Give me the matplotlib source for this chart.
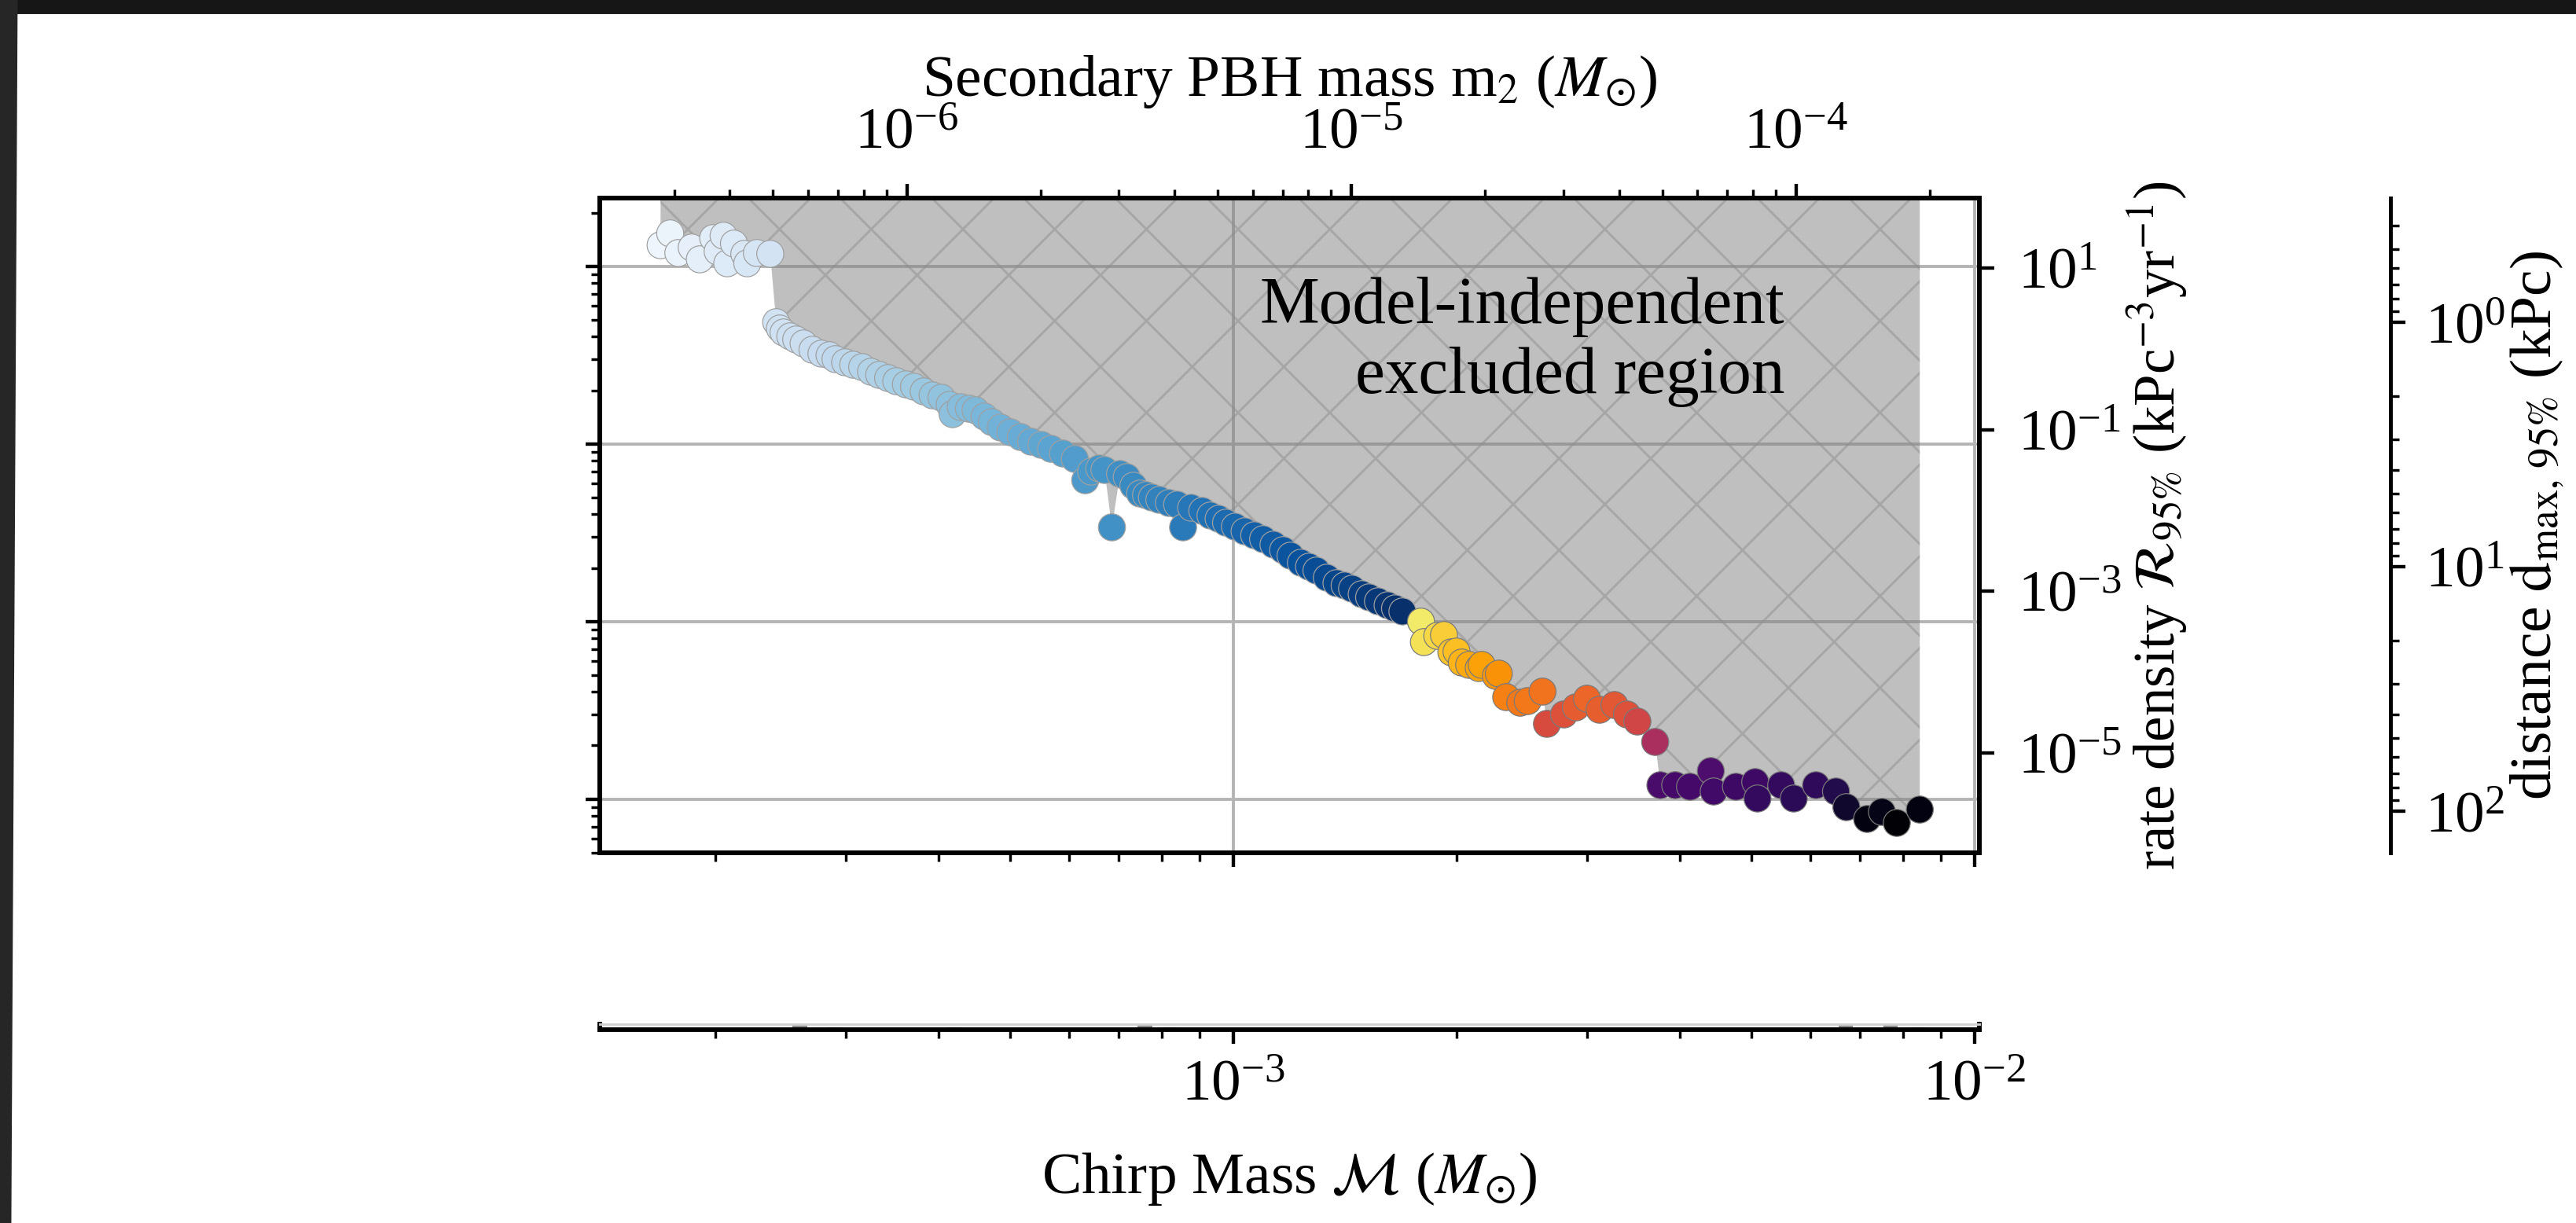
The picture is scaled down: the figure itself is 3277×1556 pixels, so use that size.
import numpy as np
import matplotlib
matplotlib.use("Agg")
import matplotlib.pyplot as plt
from matplotlib import ticker
from matplotlib.patches import Rectangle, Polygon

plt.rcParams.update({
    "font.family": "Liberation Serif",
    "mathtext.fontset": "stix",
    "font.size": 15.5,
    "axes.linewidth": 1.2,
    "hatch.linewidth": 0.6,
})

M1 = 2.5  # primary PBH mass (Msun)

# ---- data: log10 chirp mass and log10 95% rate density ----
white_logmc = [-3.773, -3.760, -3.749, -3.731, -3.720, -3.702, -3.696, -3.688,
               -3.683, -3.674, -3.660, -3.656, -3.643, -3.625]
white_logr = [1.283, 1.429, 1.186, 1.254, 1.108, 1.371, 1.205, 1.400,
              1.059, 1.303, 1.176, 1.059, 1.186, 1.176]

blue_logmc = [-3.617, -3.612, -3.607, -3.598, -3.590, -3.580, -3.568, -3.556,
              -3.545, -3.537, -3.524, -3.513, -3.501, -3.489, -3.478, -3.466,
              -3.455, -3.442, -3.431, -3.418, -3.406, -3.394, -3.383, -3.379,
              -3.368, -3.357, -3.348, -3.336, -3.326, -3.314, -3.301, -3.287,
              -3.273, -3.259, -3.246, -3.230, -3.214, -3.200, -3.192, -3.181,
              -3.174, -3.164, -3.153, -3.144, -3.135, -3.126, -3.118, -3.110,
              -3.100, -3.087, -3.076, -3.068, -3.057, -3.042, -3.031, -3.020,
              -3.010, -2.998, -2.985, -2.972, -2.960, -2.946, -2.933, -2.923,
              -2.909, -2.898, -2.888, -2.874, -2.861, -2.850, -2.840, -2.827,
              -2.817, -2.805, -2.792, -2.782, -2.772]
blue_logr = [0.330, 0.252, 0.203, 0.155, 0.116, 0.067, -0.011, -0.059,
             -0.079, -0.127, -0.166, -0.196, -0.225, -0.283, -0.322, -0.361,
             -0.400, -0.439, -0.468, -0.526, -0.575, -0.604, -0.692, -0.808,
             -0.721, -0.740, -0.760, -0.838, -0.906, -0.974, -1.032, -1.091,
             -1.149, -1.188, -1.237, -1.295, -1.363, -1.626, -1.519, -1.480,
             -1.499, -2.209, -1.548, -1.587, -1.694, -1.791, -1.810, -1.839,
             -1.868, -1.907, -1.927, -2.209, -1.966, -2.005, -2.063, -2.102,
             -2.151, -2.200, -2.258, -2.307, -2.355, -2.423, -2.491, -2.560,
             -2.647, -2.696, -2.744, -2.832, -2.900, -2.929, -2.968, -3.036,
             -3.075, -3.124, -3.173, -3.212, -3.250]

hot_logmc = [-2.747, -2.743, -2.725, -2.716, -2.706, -2.699, -2.692, -2.682,
             -2.669, -2.665, -2.646, -2.642, -2.632, -2.613, -2.603, -2.583,
             -2.577, -2.554, -2.538, -2.523, -2.506, -2.486, -2.469, -2.455,
             -2.431, -2.424, -2.404, -2.384, -2.356, -2.352, -2.322, -2.296,
             -2.293, -2.261, -2.244, -2.214, -2.187, -2.173, -2.145, -2.125,
             -2.105, -2.074]
hot_logr = [-3.376, -3.629, -3.552, -3.542, -3.756, -3.746, -3.882, -3.911,
            -3.950, -3.911, -4.048, -4.019, -4.310, -4.379, -4.359, -4.242,
            -4.641, -4.524, -4.437, -4.330, -4.466, -4.408, -4.524, -4.612,
            -4.865, -5.400, -5.400, -5.419, -5.225, -5.478, -5.419, -5.361,
            -5.565, -5.400, -5.565, -5.400, -5.478, -5.672, -5.818, -5.731,
            -5.867, -5.702]
hot_c = [0.94, 0.92, 0.90, 0.88, 0.86, 0.85, 0.83, 0.81, 0.80, 0.79, 0.77,
         0.76, 0.72, 0.70, 0.70, 0.69, 0.58, 0.60, 0.63, 0.66, 0.64, 0.62,
         0.60, 0.56, 0.46, 0.22, 0.21, 0.21, 0.23, 0.20, 0.19, 0.19, 0.17,
         0.17, 0.15, 0.16, 0.13, 0.08, 0.03, 0.04, 0.01, 0.03]

# grey marks in the thin strip below the panel
strip_mc = [2.6e-4, 2.9e-4, 4.2e-4, 7.6e-4, 8.2e-4, 6.7e-3, 7.7e-3, 8.4e-3]
strip_h = [1.0, 0.4, 0.5, 1.0, 0.5, 1.0, 1.0, 0.4]

MC_LIM = (10 ** -3.855, 10 ** -1.9936)
RATE_LIM = (10 ** -6.237, 10 ** 1.866)
LEFT_LIM = (10 ** -3.303, 10 ** 0.383)
DIST_LIM = (10 ** 2.169, 10 ** -0.509)


def mc_to_m2(mc):
    mc = np.clip(np.asarray(mc, dtype=float), 1e-30, None)
    return (mc / M1 ** 0.4) ** (5.0 / 3.0)


def m2_to_mc(m2):
    m2 = np.clip(np.asarray(m2, dtype=float), 1e-30, None)
    return M1 ** 0.4 * m2 ** 0.6


W, H = 3277, 1556
DPI = 350
fig = plt.figure(figsize=(W / DPI, H / DPI), dpi=DPI)

# dark screen border
fig.patches.append(Rectangle((0, 1 - 15 / H), 1, 15 / H, transform=fig.transFigure,
                             color="#161616", zorder=0))
fig.patches.append(Polygon([(0, 0), (12 / W, 0), (20 / W, 1), (0, 1)],
                           closed=True, transform=fig.transFigure,
                           color="#262626", zorder=0))

pos = [763 / W, 1 - 1085 / H, 1755 / W, 833 / H]
ax = fig.add_axes(pos)
ax.set_xscale("log")
ax.set_yscale("log")
ax.set_xlim(*MC_LIM)
ax.set_ylim(*LEFT_LIM)
ax.grid(True, which="major", color="#b4b4b4", lw=0.8)
ax.tick_params(which="major", direction="out", length=3.8, width=0.9)
ax.tick_params(which="minor", direction="out", length=2.2, width=0.7)
ax.tick_params(labelleft=False, labelbottom=False)

# rate-density axis on the right, where the data live
ax2 = ax.twinx()
ax2.set_yscale("log")
ax2.set_ylim(*RATE_LIM)
ax2.yaxis.set_major_locator(ticker.FixedLocator([1e1, 1e-1, 1e-3, 1e-5]))
ax2.yaxis.set_minor_locator(ticker.NullLocator())
ax2.yaxis.set_major_formatter(ticker.LogFormatterSciNotation())
ax2.tick_params(axis="y", direction="out", length=4, width=0.9, pad=6)
ax2.set_ylabel(r"rate density $\mathcal{R}_{95\%}$ (kPc$^{-3}$yr$^{-1}$)",
               fontsize=15, labelpad=1)

all_logmc = np.array(white_logmc + blue_logmc + hot_logmc)
all_logr = np.array(white_logr + blue_logr + hot_logr)
order = np.argsort(all_logmc, kind="stable")
mc_all = 10 ** all_logmc[order]
r_all = 10 ** all_logr[order]

ax2.fill_between(mc_all, r_all, 1e4, facecolor=(0.5, 0.5, 0.5, 0.5),
                 edgecolor=(0.56, 0.56, 0.56, 0.5), linewidth=0, hatch="x", zorder=1)

blue_mc = 10 ** np.array(white_logmc + blue_logmc)
blue_r = 10 ** np.array(white_logr + blue_logr)
ax2.scatter(blue_mc, blue_r, c=np.log10(blue_mc), cmap="Blues", vmin=-3.82, vmax=-2.772,
            s=50, edgecolors="#a0a0a0", linewidths=0.25, zorder=3)
ax2.scatter(10 ** np.array(hot_logmc), 10 ** np.array(hot_logr), c=hot_c,
            cmap="inferno", vmin=0, vmax=1, s=50, edgecolors="#7a7a7a",
            linewidths=0.25, zorder=3)

ax2.text(0.859, 0.88, "Model-independent\nexcluded region", transform=ax2.transAxes,
         ha="right", va="top", multialignment="right", fontsize=17.5, zorder=4)

# secondary mass on top
secax = ax.secondary_xaxis("top", functions=(mc_to_m2, m2_to_mc))
secax.tick_params(which="major", direction="out", length=3.8, width=0.9, pad=6)
secax.tick_params(which="minor", direction="out", length=2.2, width=0.7)
secax.set_xlabel(r"Secondary PBH mass m$_2$ ($M_{\odot}$)", labelpad=3)

# distance axis, offset to the right
ax4 = ax.twinx()
ax4.spines["right"].set_position(("axes", 1.298))
for side in ("top", "bottom", "left"):
    ax4.spines[side].set_visible(False)
ax4.spines["right"].set_linewidth(1.0)
ax4.set_yscale("log")
ax4.set_ylim(*DIST_LIM)
ax4.tick_params(which="major", direction="out", length=4, width=0.9, pad=5)
ax4.tick_params(which="minor", direction="out", length=2.3, width=0.7)
ax4.set_ylabel(r"distance $\mathrm{d}_{\mathrm{max},\,95\%}$ (kPc)", labelpad=1)

# thin strip carrying the chirp-mass scale
axb = fig.add_axes([763 / W, 1 - 1310 / H, 1755 / W, 7 / H])
axb.set_xscale("log")
axb.set_xlim(*MC_LIM)
axb.set_ylim(0, 1)
axb.bar(strip_mc, strip_h, width=np.array(strip_mc) * 0.045, color="#8c8c8c", linewidth=0)
axb.set_yticks([])
axb.spines["top"].set_color("#d0d0d0")
axb.spines["top"].set_linewidth(0.6)
axb.tick_params(which="major", direction="out", length=3.8, width=0.9, pad=4)
axb.tick_params(which="minor", direction="out", length=2.2, width=0.7)
axb.set_xlabel(r"Chirp Mass $\mathcal{M}$ ($M_{\odot}$)", labelpad=10)

fig.savefig("out.png", dpi=DPI)
